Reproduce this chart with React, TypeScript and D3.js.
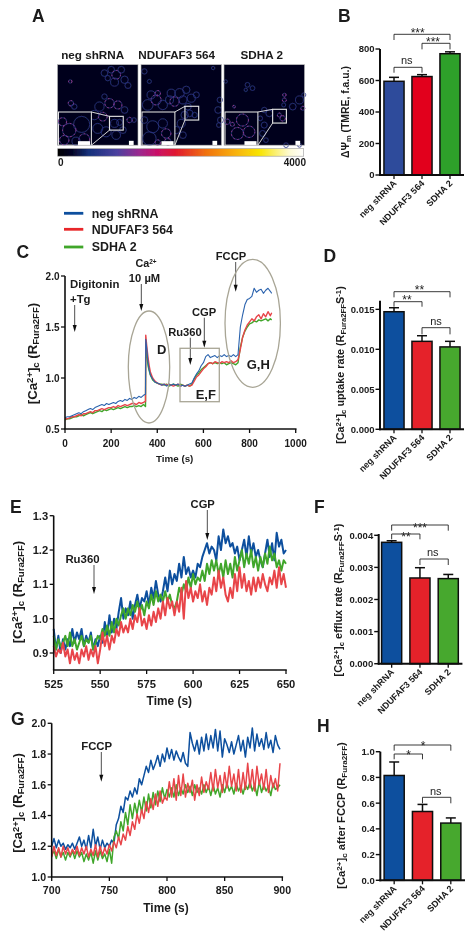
import React from "react";
import * as d3 from "d3";

const groups = ["neg shRNA", "NDUFAF3 564", "SDHA 2"];
const traceColors = ["#0b4f9e", "#e8454a", "#40a62c"];
const barColorsB = ["#2f4b9b", "#e2001a", "#2ea02c"];
const barColors = ["#0b4f9e", "#e52329", "#46a82e"];

const bValues = [595, 625, 770];
const bErrors = [25, 12, 12];
const bTicks = [0, 200, 400, 600, 800];
const dValues = [0.0147, 0.011, 0.0103];
const dErrors = [0.0005, 0.0007, 0.0007];
const dTicks = [0, 0.005, 0.01, 0.015];
const fValues = [0.00378, 0.00267, 0.00265];
const fErrors = [0.00005, 0.00032, 0.00013];
const fTicks = [0, 0.001, 0.002, 0.003, 0.004];
const hValues = [0.815, 0.535, 0.445];
const hErrors = [0.105, 0.055, 0.04];
const hTicks = [0, 0.2, 0.4, 0.6, 0.8, 1];

const cTimes = [0,10,20,30,40,50,60,70,80,90,100,110,120,130,140,150,160,170,180,190,200,210,220,230,240,250,260,270,280,290,300,310,320,330,340,349,350,355,360,365,370,380,390,400,410,420,430,440,450,460,470,480,490,500,510,520,530,540,550,560,570,580,590,600,610,620,630,640,650,660,670,680,690,700,710,720,730,740,750,760,770,780,790,800,810,820,830,840,850,860,870,880,890,896];
const cBlue = [.61,.62,.62,.63,.64,.65,.66,.65,.67,.68,.69,.70,.69,.71,.72,.73,.74,.73,.75,.74,.75,.76,.75,.77,.78,.77,.79,.78,.80,.79,.81,.80,.82,.81,.83,.84,1.38,1.28,1.15,1.08,1.03,.99,.96,.95,.94,.93,.94,.92,.94,.93,.94,.93,.94,.92,.93,.92,.93,.94,.95,1.0,1.04,1.07,1.12,1.15,1.21,1.23,1.20,1.21,1.22,1.20,1.22,1.21,1.23,1.21,1.22,1.21,1.23,1.21,1.23,1.50,1.62,1.72,1.77,1.78,1.80,1.88,1.84,1.86,1.87,1.83,1.86,1.88,1.85,1.83];
const cRed = [.60,.60,.61,.62,.62,.63,.64,.63,.65,.65,.66,.67,.66,.68,.68,.69,.70,.69,.70,.71,.71,.72,.71,.73,.72,.73,.74,.73,.74,.75,.75,.74,.76,.75,.76,.77,1.42,1.30,1.20,1.12,1.06,1.0,.97,.95,.94,.93,.94,.93,.94,.93,.92,.93,.94,.92,.93,.92,.93,.92,.93,.97,1.01,1.03,1.06,1.09,1.11,1.14,1.15,1.14,1.16,1.15,1.14,1.16,1.15,1.16,1.15,1.17,1.15,1.16,1.18,1.28,1.40,1.47,1.52,1.55,1.58,1.56,1.60,1.62,1.58,1.63,1.60,1.65,1.61,1.64];
const cGreen = [.59,.60,.60,.61,.62,.62,.63,.64,.63,.64,.65,.66,.65,.66,.67,.68,.67,.69,.68,.69,.70,.69,.70,.71,.70,.71,.72,.71,.72,.72,.73,.72,.73,.72,.74,.72,1.30,1.22,1.12,1.07,1.03,.98,.96,.95,.94,.94,.93,.94,.92,.93,.94,.93,.92,.94,.93,.92,.93,.92,.94,.99,1.03,1.05,1.08,1.10,1.12,1.14,1.15,1.14,1.15,1.14,1.15,1.14,1.15,1.13,1.14,1.15,1.14,1.13,1.15,1.30,1.40,1.46,1.50,1.53,1.54,1.56,1.55,1.57,1.56,1.57,1.58,1.56,1.58,1.57];

const eBlue = [.97,.91,.95,.90,.94,.91,.94,.92,.97,.93,.96,.94,.97,.92,.95,.93,.96,.91,.94,.92,.95,.93,.99,.95,1.01,.96,1.0,.97,1.02,1.06,1.0,1.03,1.01,1.05,1.0,1.04,1.07,1.03,1.06,1.05,1.08,1.04,1.09,1.06,1.11,1.07,1.05,1.08,1.12,1.08,1.14,1.10,1.13,1.11,1.16,1.12,1.18,1.13,1.15,1.12,1.14,1.12,1.16,1.15,1.18,1.20,1.22,1.19,1.21,1.20,1.17,1.24,1.20,1.26,1.22,1.24,1.21,1.22,1.19,1.21,1.17,1.20,1.23,1.18,1.24,1.19,1.22,1.18,1.20,1.17,1.15,1.19,1.23,1.18,1.22,1.17,1.25,1.21,1.23,1.19,1.20];
const eGreen = [.95,.91,.94,.92,.93,.95,.92,.96,.92,.94,.91,.93,.95,.92,.94,.93,.95,.91,.93,.95,.94,.97,.95,.98,.95,.99,.96,1.0,.98,1.01,1.03,1.0,1.03,1.01,1.04,1.02,1.05,1.02,1.04,1.01,1.05,1.03,1.07,1.04,1.08,1.05,1.07,1.05,1.08,1.05,1.07,1.04,1.03,1.05,1.09,1.07,1.10,1.08,1.12,1.09,1.13,1.10,1.12,1.11,1.14,1.11,1.16,1.13,1.17,1.14,1.17,1.13,1.16,1.12,1.17,1.13,1.16,1.12,1.18,1.14,1.17,1.20,1.15,1.19,1.16,1.20,1.15,1.18,1.14,1.18,1.15,1.19,1.16,1.21,1.17,1.19,1.15,1.17,1.14,1.17,1.16];
const eRed = [.92,.89,.91,.90,.93,.89,.91,.87,.91,.88,.90,.87,.91,.89,.92,.88,.91,.89,.92,.87,.91,.96,.92,.95,.91,.95,.93,.97,.95,.99,.96,.98,.96,1.0,.97,1.01,.99,1.03,.98,1.0,.97,1.01,.98,1.02,.99,1.03,1.0,1.05,1.01,1.06,1.03,1.05,1.01,1.05,1.02,1.09,1.0,1.11,1.06,1.09,1.05,1.08,1.06,1.10,1.05,1.08,1.04,1.09,1.07,1.12,1.08,1.14,1.09,1.12,1.07,1.05,1.09,1.06,1.13,1.08,1.15,1.09,1.13,1.08,1.11,1.07,1.12,1.08,1.12,1.09,1.13,1.10,1.08,1.12,1.10,1.14,1.09,1.15,1.10,1.13,1.09];

const gBlue = [1.20,1.25,1.19,1.24,1.20,1.22,1.18,1.21,1.19,1.22,1.18,1.22,1.26,1.20,1.24,1.18,1.27,1.19,1.31,1.20,1.26,1.18,1.24,1.19,1.22,1.20,1.24,1.22,1.34,1.38,1.46,1.42,1.52,1.50,1.56,1.52,1.58,1.54,1.64,1.60,1.66,1.72,1.68,1.76,1.70,1.74,1.79,1.72,1.80,1.75,1.84,1.77,1.83,1.76,1.82,1.78,1.75,1.81,1.74,1.72,1.94,1.87,1.82,1.89,1.80,1.91,1.82,1.93,1.83,1.92,1.84,1.96,1.82,1.95,1.78,1.90,1.86,1.81,1.88,1.80,1.86,1.92,1.82,1.89,1.78,1.91,1.84,1.97,1.82,1.93,1.85,1.90,1.83,1.94,1.84,1.89,1.81,1.92,1.86,1.83];
const gRed = [1.13,1.20,1.14,1.19,1.13,1.20,1.15,1.19,1.14,1.18,1.15,1.20,1.14,1.19,1.15,1.20,1.13,1.18,1.14,1.21,1.13,1.20,1.14,1.19,1.15,1.21,1.17,1.23,1.19,1.26,1.21,1.28,1.24,1.33,1.27,1.36,1.31,1.41,1.35,1.44,1.38,1.49,1.42,1.51,1.44,1.54,1.46,1.56,1.48,1.52,1.50,1.62,1.52,1.64,1.50,1.66,1.53,1.67,1.52,1.61,1.55,1.63,1.50,1.60,1.53,1.65,1.55,1.62,1.57,1.68,1.56,1.70,1.58,1.66,1.55,1.68,1.58,1.72,1.59,1.67,1.56,1.70,1.55,1.68,1.57,1.74,1.58,1.70,1.56,1.72,1.60,1.67,1.57,1.70,1.55,1.66,1.58,1.64,1.56,1.74];
const gGreen = [1.14,1.17,1.12,1.18,1.13,1.16,1.11,1.16,1.13,1.17,1.12,1.17,1.13,1.16,1.10,1.15,1.11,1.16,1.09,1.17,1.11,1.17,1.12,1.15,1.10,1.18,1.09,1.26,1.30,1.25,1.36,1.30,1.42,1.34,1.47,1.38,1.48,1.41,1.50,1.42,1.52,1.43,1.54,1.45,1.55,1.47,1.56,1.49,1.58,1.51,1.57,1.52,1.58,1.52,1.60,1.53,1.58,1.54,1.60,1.55,1.59,1.53,1.60,1.55,1.58,1.54,1.60,1.55,1.59,1.53,1.60,1.54,1.58,1.52,1.60,1.55,1.61,1.56,1.59,1.54,1.61,1.56,1.59,1.54,1.60,1.57,1.62,1.56,1.60,1.53,1.62,1.55,1.60,1.56,1.59,1.53,1.61,1.57,1.58,1.60];

// Micrograph cell outlines: [x, y, radius, hot] in image units (240 wide)
const cells1 = [[140,25,10,0],[160,15,10,0],[175,30,13,1],[190,15,10,0],[170,52,12,0],[200,45,11,0],[210,62,9,0],[150,40,8,0],[38,50,5,1],[40,115,8,1],[50,125,8,0],[140,95,8,0],[125,125,14,0],[155,115,14,1],[180,120,12,1],[110,150,14,0],[135,155,13,1],[200,135,10,0],[120,190,15,0],[145,200,15,0],[175,210,13,0],[195,195,10,0],[215,165,8,1],[228,165,7,0],[170,175,12,0],[185,172,9,0]];
const inset1 = [[72,178,24,0],[35,195,20,1],[80,222,16,1],[15,170,12,1],[20,225,14,1],[55,228,12,0]];
const cells2 = [[10,20,8,0],[25,50,6,0],[20,120,16,0],[45,105,15,1],[65,120,14,0],[30,90,12,0],[50,85,8,1],[85,105,12,0],[90,85,12,0],[115,85,14,0],[135,75,11,0],[100,110,14,1],[125,105,12,0],[150,100,12,0],[165,90,9,0],[145,145,10,0],[160,150,8,0],[130,150,11,0],[120,175,12,0],[105,195,11,0],[125,210,10,0],[235,105,8,0],[230,135,10,0],[237,165,9,0],[215,10,5,0],[232,180,7,0],[140,125,10,0]];
const inset2 = [[35,185,18,0],[25,220,20,0],[65,175,14,0],[75,205,14,1],[80,230,10,1],[10,165,10,0],[50,232,8,1]];
const cells3 = [[70,60,7,0],[85,70,7,0],[65,75,5,0],[5,50,5,0],[180,90,5,1],[180,105,6,1],[178,120,6,0],[225,105,12,0],[205,125,10,0],[238,90,6,0],[235,130,6,1],[120,135,8,0],[135,145,10,0],[108,160,7,0],[120,180,9,0],[115,205,9,0],[125,225,7,0],[175,160,8,1],[165,150,6,1],[185,240,7,0],[225,240,6,0],[30,125,4,1]];
const inset3 = [[55,165,18,1],[40,205,18,1],[75,200,17,1],[10,170,8,1],[25,178,6,1]];

const FONT = "'Liberation Sans', Arial, sans-serif";
type Part = [string, string?];

function Lab({ x, y, parts, size = 10.5 }: { x: number; y: number; parts: Part[]; size?: number }) {
  return (
    <text x={x} y={y} textAnchor="middle" fontWeight="bold" fontSize={size} fontFamily={FONT} fill="#1a1a1a" transform={`rotate(-90 ${x} ${y})`}>
      {parts.map(([t, k], i) => (
        <tspan key={i} fontSize={k ? size * 0.72 : size} baselineShift={k === "sub" ? "-22%" : k === "sup" ? "38%" : undefined}>{t}</tspan>
      ))}
    </text>
  );
}

function T({ x, y, s, size = 9.5, anchor = "start", weight = "bold" }: { x: number; y: number; s: string; size?: number; anchor?: string; weight?: string }) {
  return <text x={x} y={y} fontSize={size} fontWeight={weight} fontFamily={FONT} textAnchor={anchor} fill="#1a1a1a">{s}</text>;
}

function Letter({ x, y, s }: { x: number; y: number; s: string }) {
  return <text x={x} y={y} fontSize={17.5} fontWeight="bold" fontFamily={FONT} fill="#1a1a1a">{s}</text>;
}

function Arrow({ x, y1, y2 }: { x: number; y1: number; y2: number }) {
  return (
    <g>
      <line x1={x} x2={x} y1={y1} y2={y2 - 4} stroke="#222" strokeWidth={0.8} />
      <path d={`M${x - 2},${y2 - 7}L${x + 2},${y2 - 7}L${x},${y2}Z`} fill="#111" />
    </g>
  );
}

function Trace({ xs, ys, x, y, color, w = 1.1 }: { xs: number[]; ys: number[]; x: any; y: any; color: string; w?: number }) {
  const line = d3.line<number>().x((_, i) => x(xs[i])).y((d) => y(d));
  return <path d={line(ys) || ""} fill="none" stroke={color} strokeWidth={w} strokeLinejoin="round" />;
}

function Axes({ x, y, xTicks, yTicks, fmtY, xBase, sw = 1.6, labelY, top, size = 10 }: any) {
  const [x0, x1] = x.range();
  return (
    <g>
      <line x1={x0} x2={x0} y1={top} y2={xBase} stroke="#111" strokeWidth={sw} />
      <line x1={x0 - 0.8} x2={x1 + 0.8} y1={xBase} y2={xBase} stroke="#111" strokeWidth={sw} />
      {xTicks.map((t: number) => (
        <g key={t}>
          <line x1={x(t)} x2={x(t)} y1={xBase} y2={xBase + 4} stroke="#111" strokeWidth={1.3} />
          <T x={x(t)} y={labelY} s={String(t)} anchor="middle" size={size} />
        </g>
      ))}
      {yTicks.map((t: number) => (
        <g key={t}>
          <line x1={x0 - 4} x2={x0} y1={y(t)} y2={y(t)} stroke="#111" strokeWidth={1.3} />
          <T x={x0 - 5.5} y={y(t) + size * 0.36} s={fmtY(t)} anchor="end" size={size} />
        </g>
      ))}
    </g>
  );
}

function Bracket({ x1, x2, top, leg1, leg2 }: { x1: number; x2: number; top: number; leg1: number; leg2: number }) {
  return <path d={`M${x1},${leg1}V${top}H${x2}V${leg2}`} fill="none" stroke="#222" strokeWidth={0.9} />;
}

function BarPanel({ axisX, start, width, base, pxTop, topValue, values, errors, ticks, fmt, colors, brackets, notes }: any) {
  const y = d3.scaleLinear().domain([0, topValue]).range([base, pxTop]);
  const x = d3.scaleBand<string>().domain(groups).range([start, start + width * 3]);
  const bw = 21.5;
  return (
    <g>
      {groups.map((g, i) => {
        const c = (x(g) as number) + width / 2;
        return (
          <g key={g}>
            <line x1={c} x2={c} y1={y(values[i])} y2={y(values[i] + errors[i])} stroke="#111" strokeWidth={1.5} />
            <line x1={c - 5} x2={c + 5} y1={y(values[i] + errors[i])} y2={y(values[i] + errors[i])} stroke="#111" strokeWidth={1.5} />
            <rect x={c - bw / 2 + 0.7} y={y(values[i])} width={bw - 1.4} height={base - y(values[i])} fill={colors[i]} stroke="#111" strokeWidth={1.5} />
            <line x1={c} x2={c} y1={base} y2={base + 4} stroke="#111" strokeWidth={1.3} />
            <text transform={`translate(${c + 3},${base + 9}) rotate(-45)`} textAnchor="end" fontSize={9} fontWeight="bold" fontFamily={FONT} fill="#1a1a1a">{g}</text>
          </g>
        );
      })}
      <line x1={axisX} x2={axisX} y1={pxTop} y2={base + 1} stroke="#111" strokeWidth={2} />
      <line x1={axisX - 1} x2={start + width * 3} y1={base} y2={base} stroke="#111" strokeWidth={2} />
      {ticks.map((t: number) => (
        <g key={t}>
          <line x1={axisX - 4.5} x2={axisX} y1={y(t)} y2={y(t)} stroke="#111" strokeWidth={1.4} />
          <T x={axisX - 5.5} y={y(t) + 3.4} s={fmt(t)} anchor="end" />
        </g>
      ))}
      {brackets.map(([a, b, top, l1, l2]: number[], i: number) => (
        <Bracket key={i} x1={(x(groups[a]) as number) + width / 2} x2={(x(groups[b]) as number) + width / 2} top={top} leg1={l1} leg2={l2} />
      ))}
      {notes.map(([s, nx, ny]: [string, number, number], i: number) => (
        <text key={i} x={nx} y={ny} textAnchor="middle" fontSize={s === "ns" ? 11 : 12} fontFamily={FONT} fill="#222">{s}</text>
      ))}
    </g>
  );
}

function Micro({ px, py, cells, inset, box, size = 80.5 }: any) {
  const s = d3.scaleLinear().domain([0, 240]).range([0, size]);
  const rings = (list: number[][], key = "") =>
    list.map(([cx, cy, r, hot], i) => (
      <g key={key + i}>
        <circle cx={s(cx)} cy={s(cy)} r={s(r)} fill="none" stroke="#2b3585" strokeWidth={0.8} />
        {hot ? <circle cx={s(cx)} cy={s(cy)} r={s(r)} fill="none" stroke="#b83a90" strokeWidth={0.8} strokeDasharray="1.5 2.5" /> : null}
      </g>
    ));
  return (
    <g transform={`translate(${px},${py})`}>
      <rect width={size} height={size} fill="#04061e" />
      {rings(cells, "c")}
      <rect x={s(3)} y={s(141)} width={s(98)} height={s(99)} fill="#04061e" stroke="#e6e6e6" strokeWidth={1} />
      {rings(inset, "i")}
      <rect x={s(box[0])} y={s(box[1])} width={s(41)} height={s(41)} fill="none" stroke="#e6e6e6" strokeWidth={1.1} />
      <line x1={s(101)} y1={s(141)} x2={s(box[0])} y2={s(box[1])} stroke="#e6e6e6" strokeWidth={0.9} />
      <line x1={s(101)} y1={s(240)} x2={s(box[0])} y2={s(box[1] + 41)} stroke="#e6e6e6" strokeWidth={0.9} />
      <rect x={s(61)} y={s(228)} width={s(36)} height={s(12)} fill="#fff" />
      <rect x={s(213)} y={s(227)} width={s(14)} height={s(13)} fill="#fff" />
      <rect width={size} height={size} fill="none" stroke="#b5b5b5" strokeWidth={0.6} />
    </g>
  );
}

export default function App() {
  const xC = d3.scaleLinear().domain([0, 1000]).range([65, 295.7]);
  const yC = d3.scaleLinear().domain([0.5, 2]).range([429, 276]);
  const xE = d3.scaleLinear().domain([525, 650]).range([53.7, 286]);
  const yE = d3.scaleLinear().domain([0.9, 1.3]).range([653, 515.7]);
  const xG = d3.scaleLinear().domain([700, 900]).range([51.7, 282.3]);
  const yG = d3.scaleLinear().domain([1, 2]).range([877, 723.3]);
  const eTimes = eBlue.map((_, i) => 525 + i * 1.25);
  const gTimes = gBlue.map((_, i) => 700 + i * 2);
  const f1 = d3.format(".1f");
  const f3 = d3.format(".3f");
  const caLab: Part[] = [["[Ca"], ["2+", "sup"], ["]"], ["c", "sub"], [" (R"], ["Fura2FF", "sub"], [")"]];
  const stops: [number, string][] = [[0, "#000"], [0.06, "#050528"], [0.125, "#14307a"], [0.24, "#4a409f"], [0.33, "#9a2a90"], [0.4, "#c8106a"], [0.48, "#e01830"], [0.6, "#f07010"], [0.72, "#f8b010"], [0.82, "#f8e400"], [0.94, "#fdfad0"], [1, "#fff"]];

  return (
    <svg width={473} height={945} style={{ position: "absolute", left: 0, top: 0, display: "block", background: "#fff" }}>
      <defs>
        <linearGradient id="fire">
          {stops.map(([o, c]) => <stop key={o} offset={o} stopColor={c} />)}
        </linearGradient>
        <filter id="soft" x="-5%" y="-5%" width="110%" height="110%"><feGaussianBlur stdDeviation="0.35" /></filter>
      </defs>
      <g filter="url(#soft)">
        <Letter x={32} y={22} s="A" />
        <Letter x={338} y={22} s="B" />
        <Letter x={16.5} y={258} s="C" />
        <Letter x={323.5} y={261.5} s="D" />
        <Letter x={10} y={513} s="E" />
        <Letter x={314} y={513} s="F" />
        <Letter x={11} y={725} s="G" />
        <Letter x={317} y={732} s="H" />

        {/* A */}
        <T x={92.7} y={59} s={groups[0]} anchor="middle" size={11.7} />
        <T x={176.7} y={59} s={groups[1]} anchor="middle" size={11.7} />
        <T x={261.7} y={59} s={groups[2]} anchor="middle" size={11.7} />
        <Micro px={57.5} py={64.7} cells={cells1} inset={inset1} box={[155, 154]} />
        <Micro px={141} py={64.7} cells={cells2} inset={inset2} box={[131, 124]} />
        <Micro px={224} py={64.7} cells={cells3} inset={inset3} box={[145, 133]} />
        <rect x={57.7} y={148.7} width={246} height={7.5} fill="url(#fire)" stroke="#999" strokeWidth={0.6} />
        <T x={60.7} y={166} s="0" anchor="middle" size={10} />
        <T x={306} y={166} s="4000" anchor="end" size={10} />

        {/* B */}
        <BarPanel axisX={380} start={380} width={28} base={175} pxTop={49} topValue={800} values={bValues} errors={bErrors} ticks={bTicks} fmt={String} colors={barColorsB}
          brackets={[[0, 1, 67.3, 72.7, 72.7], [1, 2, 43.3, 49.3, 49.3], [0, 2, 34.3, 40, 40]]}
          notes={[["ns", 406.7, 64], ["***", 433, 46], ["***", 417.7, 37]]} />
        <Lab x={349} y={112} parts={[["ΔΨ"], ["m", "sub"], [" (TMRE, f.a.u.)"]]} size={10.4} />

        {/* Legend */}
        {[213.3, 229.3, 247].map((ly, i) => (
          <g key={i}>
            <line x1={64} x2={83.3} y1={ly} y2={ly} stroke={["#0b4f9e", "#e8282c", "#40a62c"][i]} strokeWidth={2.8} />
            <T x={91.7} y={ly + 4.3} s={groups[i]} size={12.4} />
          </g>
        ))}

        {/* C */}
        <Trace xs={cTimes} ys={cGreen} x={xC} y={yC} color={traceColors[2]} w={1.4} />
        <Trace xs={cTimes} ys={cRed} x={xC} y={yC} color={traceColors[1]} w={1.4} />
        <Trace xs={cTimes} ys={cBlue} x={xC} y={yC} color="#2a62ad" w={1.1} />
        <Axes x={xC} y={yC} xTicks={[0, 200, 400, 600, 800, 1000]} yTicks={[0.5, 1, 1.5, 2]} fmtY={f1} xBase={429} top={276} labelY={446.5} size={10} />
        <T x={174.7} y={461.7} s="Time (s)" anchor="middle" size={9.8} />
        <Lab x={37} y={353.5} parts={caLab} size={13.2} />
        <T x={70} y={287.5} s="Digitonin" size={11.4} />
        <T x={70} y={303} s="+Tg" size={11.4} />
        <Arrow x={74.7} y1={305} y2={332} />
        <text x={146} y={266.7} textAnchor="middle" fontSize={10.8} fontWeight="bold" fontFamily={FONT} fill="#1a1a1a">Ca<tspan fontSize={6.5} baselineShift="40%">2+</tspan></text>
        <T x={144.5} y={282} s="10 µM" anchor="middle" size={11.2} />
        <Arrow x={141.3} y1={284} y2={311} />
        <ellipse cx={149} cy={367} rx={20.7} ry={56} fill="none" stroke="#a8a595" strokeWidth={1.3} />
        <T x={157} y={353.5} s="D" size={13} />
        <T x={185} y={335.7} s="Ru360" anchor="middle" size={11.2} />
        <Arrow x={190.3} y1={337.7} y2={365} />
        <T x={204} y={315.7} s="CGP" anchor="middle" size={11.2} />
        <Arrow x={204.3} y1={317.7} y2={347.7} />
        <rect x={180} y={348.3} width={39.3} height={53.4} fill="none" stroke="#a8a595" strokeWidth={1.3} />
        <T x={195.7} y={398.5} s="E,F" size={13} />
        <T x={231} y={260} s="FCCP" anchor="middle" size={11.2} />
        <Arrow x={235.7} y1={262} y2={291.7} />
        <ellipse cx={252.7} cy={323.3} rx={27.7} ry={64} fill="none" stroke="#a8a595" strokeWidth={1.3} />
        <T x={246.7} y={369.3} s="G,H" size={13} />

        {/* D */}
        <BarPanel axisX={380} start={380} width={28} base={429.3} pxTop={300.7} topValue={0.01608} values={dValues} errors={dErrors} ticks={dTicks} fmt={f3} colors={barColors}
          brackets={[[1, 2, 327.7, 334.3, 334.3], [0, 1, 301.7, 306.7, 306.7], [0, 2, 291.7, 297.3, 297.3]]}
          notes={[["ns", 436, 325], ["**", 407, 304], ["**", 419.5, 294]]} />
        <Lab x={344} y={365} parts={[["[Ca"], ["2+", "sup"], ["]"], ["c", "sub"], [" uptake rate (R"], ["Fura2FF", "sub"], ["S"], ["-1", "sup"], [")"]]} size={10.8} />

        {/* E */}
        <Trace xs={eTimes} ys={eBlue} x={xE} y={yE} color={traceColors[0]} w={2} />
        <Trace xs={eTimes} ys={eGreen} x={xE} y={yE} color={traceColors[2]} w={2} />
        <Trace xs={eTimes} ys={eRed} x={xE} y={yE} color={traceColors[1]} w={2} />
        <Axes x={xE} y={yE} xTicks={[525, 550, 575, 600, 625, 650]} yTicks={[0.9, 1, 1.1, 1.2, 1.3]} fmtY={f1} xBase={670} top={515.7} labelY={687.5} size={11.2} />
        <T x={169.3} y={705} s="Time (s)" anchor="middle" size={11.9} />
        <Lab x={21.5} y={592} parts={caLab} size={13.4} />
        <T x={82.5} y={562.7} s="Ru360" anchor="middle" size={11.4} />
        <Arrow x={94} y1={565} y2={594} />
        <T x={202.7} y={508} s="CGP" anchor="middle" size={11.2} />
        <Arrow x={207.3} y1={510} y2={540} />

        {/* F */}
        <BarPanel axisX={378.7} start={377.5} width={28.3} base={663.7} pxTop={534} topValue={0.00404} values={fValues} errors={fErrors} ticks={fTicks} fmt={f3} colors={barColors}
          brackets={[[1, 2, 559, 565, 565], [0, 1, 534, 539.3, 539.3], [0, 2, 525, 530.7, 530.7]]}
          notes={[["ns", 432.7, 556], ["**", 406, 541], ["***", 420, 531.5]]} />
        <Lab x={342} y={600} parts={[["[Ca"], ["2+", "sup"], ["]"], ["c", "sub"], [" efflux rate (R"], ["Fura2FF", "sub"], ["S"], ["-1", "sup"], [")"]]} size={10.9} />

        {/* G */}
        <Trace xs={gTimes} ys={gBlue} x={xG} y={yG} color={traceColors[0]} w={1.5} />
        <Trace xs={gTimes} ys={gGreen} x={xG} y={yG} color={traceColors[2]} w={1.5} />
        <Trace xs={gTimes} ys={gRed} x={xG} y={yG} color={traceColors[1]} w={1.5} />
        <Axes x={xG} y={yG} xTicks={[700, 750, 800, 850, 900]} yTicks={[1, 1.2, 1.4, 1.6, 1.8, 2]} fmtY={f1} xBase={877} top={723.3} labelY={893.5} size={10.6} />
        <T x={166} y={911.7} s="Time (s)" anchor="middle" size={11.9} />
        <Lab x={21.5} y={803} parts={caLab} size={13} />
        <T x={96.7} y={750} s="FCCP" anchor="middle" size={11.4} />
        <Arrow x={101.3} y1={752} y2={781.7} />

        {/* H */}
        <BarPanel axisX={380.3} start={380} width={28.33} base={880.3} pxTop={751.7} topValue={1} values={hValues} errors={hErrors} ticks={hTicks} fmt={f1} colors={barColors}
          brackets={[[1, 2, 797.3, 803.3, 803.3], [0, 1, 754, 759.3, 759.3], [0, 2, 745, 750.7, 750.7]]}
          notes={[["ns", 435.7, 795], ["*", 408.5, 758.5], ["*", 423, 749.5]]} />
        <Lab x={344.5} y={815.5} parts={[["[Ca"], ["2+", "sup"], ["]"], ["c", "sub"], [" after FCCP (R"], ["Fura2FF", "sub"], [")"]]} size={11.2} />
      </g>
    </svg>
  );
}
